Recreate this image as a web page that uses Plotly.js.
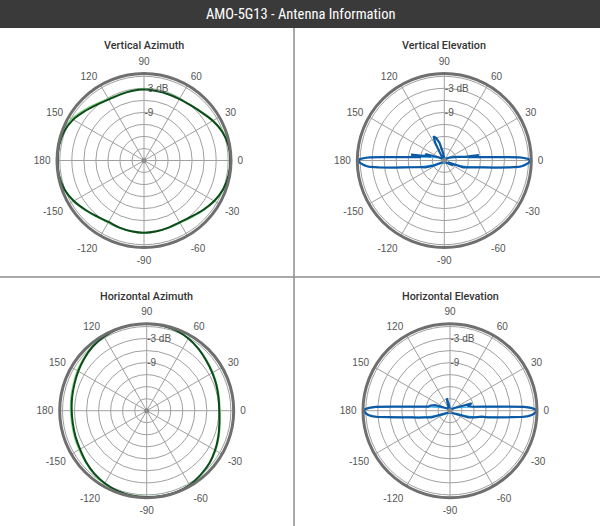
<!DOCTYPE html>
<html>
<head>
<meta charset="utf-8">
<script src="https://cdn.plot.ly/plotly-3.0.1.min.js"></script>
<style>html,body{margin:0;padding:0;background:#fff;}#chart{width:600px;height:526px;}</style>
</head>
<body>
<div id="chart"></div>
<script>
// ---------- data ----------
const chartTitle = "AMO-5G13 - Antenna Information";
const panelTitles = ["Vertical Azimuth", "Vertical Elevation", "Horizontal Azimuth", "Horizontal Elevation"];

const angleTicks = [0, 30, 60, 90, 120, 150, 180, 210, 240, 270, 300, 330];
const angleTickText = ["0", "30", "60", "90", "120", "150", "180", "-150", "-120", "-90", "-60", "-30"];
const radialTicks = [-18, -15, -12, -9, -6, -3, 0];
const radialTickText = ["", "", "", "-9", "", "-3 dB", ""];
const radialRange = [-21, 0.7];

// Vertical Azimuth (dB)
const vaTheta = [0,10,20,30,40,50,60,70,80,90,100,110,120,130,140,150,160,170,180,190,200,210,220,230,240,250,260,270,280,290,300,310,320,330,340,350];
const vaMain  = [0.5,0.4,-0.2,-1.2,-2.3,-3.0,-3.3,-3.4,-3.4,-3.3,-3.4,-3.5,-3.4,-2.8,-1.8,-0.6,0.2,0.5,0.5,0.5,0.1,-0.8,-1.9,-2.8,-3.3,-3.2,-3.1,-3.0,-3.1,-3.2,-3.2,-2.7,-1.8,-0.8,0.0,0.4];
const vaAlt   = [0.6,0.5,0.0,-1.0,-2.1,-2.9,-3.2,-3.3,-3.3,-3.2,-3.3,-3.4,-3.2,-2.5,-1.4,-0.2,0.5,0.6,0.6,0.6,0.3,-0.6,-1.7,-2.6,-3.1,-3.1,-3.0,-2.9,-3.0,-3.1,-3.0,-2.5,-1.6,-0.6,0.2,0.5];

// Horizontal Azimuth (dB)
const haTheta = vaTheta;
const haMain  = [-2.9,-2.8,-2.5,-2.1,-1.6,-0.9,-0.2,0.3,0.6,0.7,0.7,0.6,0.3,-0.1,-0.7,-1.3,-1.8,-2.1,-2.3,-2.3,-2.1,-1.8,-1.2,-0.6,-0.1,0.3,0.5,0.5,0.6,0.6,0.4,-0.1,-0.6,-1.3,-2.0,-2.6];
const haAlt   = [-2.7,-2.6,-2.3,-1.9,-1.4,-0.8,-0.1,0.4,0.6,0.7,0.7,0.6,0.4,0.0,-0.5,-1.0,-1.5,-1.8,-2.0,-2.0,-1.8,-1.5,-1.0,-0.4,0.1,0.4,0.6,0.6,0.6,0.6,0.5,0.0,-0.5,-1.1,-1.8,-2.4];

// Vertical Elevation (dB)
const veTheta = [-60,-40,-30,-25,-20,-15,-10,-8,-6,-5,-4,-3,-2,-1,0,1,2,2.5,3,4,5,6,7,8,9,10,12,15,20,30,45,90,100,105,110,114,117,121,135,150,158,161,163,166,168,170,171,172,174,175,176,177,177.5,178,179,180,181,182,183,184,185,186,188,190,193,196,200,205,215,240,290];
const veMain  = [-20.5,-20,-18.5,-20,-16,-14.3,-11,-8.4,-4.5,-2.5,-1.5,-0.8,-0.2,0.3,0.45,0.0,-1.5,-2.6,-5.2,-9.2,-11.5,-13.1,-14,-14.8,-12.3,-15.8,-16.5,-17.5,-18.5,-19.5,-20.5,-20.5,-19,-16.5,-15,-14.4,-16,-19.5,-20.5,-19.5,-18,-16,-17.5,-16,-15.5,-12.6,-14.5,-15.1,-13.1,-11.5,-9.2,-5.3,-2.6,-1.5,0.0,0.45,0.3,-0.2,-0.8,-1.5,-2.5,-4.5,-8.4,-11,-13.5,-15,-16,-18,-20,-20.5,-20.5];
const veAltTheta = [-60,-30,-15,-10,-7,-5,-4,-2,0,1,2,2.5,3,5,10,30,90,150,170,175,177,177.5,178,179,180,182,184,185,187,190,195,210,290];
const veAlt      = [-20.5,-19,-15,-11.5,-6.5,-2.2,-1.2,0.0,0.55,0.1,-1.3,-2.4,-5,-11,-16.5,-19.5,-20.5,-19.5,-16.5,-11,-5,-2.4,-1.3,0.1,0.55,0.0,-1.2,-2.2,-6.5,-11.5,-15,-19,-20.5];

// Horizontal Elevation (dB)
const heTheta = [-60,-40,-25,-20,-15,-12,-10.7,-10,-8,-6,-5,-4,-3,-2,-1,0,1,2,3,4,5,7,10,15,18.8,22,30,45,95,100,105,110,120,150,160,165,169.6,173,175,176,177,178,179,180,181,182,183,184,185,186,188,190,192.5,195,200,205,215,240,290];
const heMain  = [-20.5,-20,-19,-16.1,-14.5,-13.5,-13,-11.4,-9,-5.5,-3,-1.5,-0.6,0.0,0.4,0.6,0.2,-0.8,-2.5,-6.7,-9.5,-12.8,-15.3,-16.5,-15.3,-18,-19.5,-20.5,-20.5,-19.5,-17.8,-19.5,-20.5,-19.5,-17,-16,-15.5,-12.8,-9.5,-6.7,-2.5,-0.8,0.2,0.45,0.3,-0.1,-0.6,-1.5,-3,-5.5,-9,-11.4,-12.9,-14.5,-16.1,-19,-20,-20.5,-20.5];
const heAltTheta = [-60,-30,-15,-10,-7,-5,-4,-2,0,1,2,3,4,5,10,30,90,150,170,175,176,177,178,179,180,182,184,185,187,190,195,210,290];
const heAlt      = [-20.5,-19,-15,-12,-7,-2.6,-1.3,0.1,0.65,0.3,-0.6,-2.2,-6.5,-9.5,-15.5,-19.5,-20.5,-19.5,-15.5,-9.5,-6.5,-2.2,-0.6,0.3,0.55,0.1,-1.3,-2.6,-7,-12,-15,-19,-20.5];

// ---------- colours / styles ----------
const darkGreen = "#0b4a1b", lightGreen = "#7fd67c";
const darkBlue = "#0c5aa6", lightBlue = "#47b4ea";
const gridColor = "#a0a0a0", ringColor = "#6f6f6f", tickColor = "#555555";

function closed(a) { return a.concat([a[0]]); }

function lineTrace(theta, r, color, width, sub, shape) {
  return {
    type: "scatterpolar", mode: "lines", subplot: sub,
    theta: closed(theta), r: closed(r),
    line: {color: color, width: width, shape: shape, smoothing: 1},
    hoverinfo: "skip", showlegend: false, cliponaxis: true
  };
}
function centerDot(sub) {
  return {type: "scatterpolar", mode: "markers", subplot: sub, r: [radialRange[0]], theta: [0],
          marker: {color: "#8a8a8a", size: 5}, hoverinfo: "skip", showlegend: false};
}

const data = [
  lineTrace(vaTheta, vaAlt, lightGreen, 1.3, "polar", "spline"),
  lineTrace(vaTheta, vaMain, darkGreen, 2.0, "polar", "spline"),
  centerDot("polar"),
  lineTrace(veAltTheta, veAlt, lightBlue, 1.4, "polar2", "linear"),
  lineTrace(veTheta, veMain, darkBlue, 2.2, "polar2", "linear"),
  centerDot("polar2"),
  lineTrace(haTheta, haAlt, lightGreen, 1.3, "polar3", "spline"),
  lineTrace(haTheta, haMain, darkGreen, 2.0, "polar3", "spline"),
  centerDot("polar3"),
  lineTrace(heAltTheta, heAlt, lightBlue, 1.4, "polar4", "linear"),
  lineTrace(heTheta, heMain, darkBlue, 2.2, "polar4", "linear"),
  centerDot("polar4")
];

const W = 600, H = 526, R = 87;
function dom(cx, cy) {
  return {x: [(cx - R) / W, (cx + R) / W], y: [(H - cy - R) / H, (H - cy + R) / H]};
}
const tickFont = {family: "Liberation Sans, Arial, sans-serif", size: 10, color: tickColor};
function polarCfg(cx, cy) {
  return {
    domain: dom(cx, cy),
    bgcolor: "rgba(0,0,0,0)",
    radialaxis: {
      range: radialRange, tickmode: "array", tickvals: radialTicks, ticktext: radialTickText,
      angle: 90, tickangle: 90, showline: false, ticks: "", gridcolor: gridColor, gridwidth: 1,
      tickfont: tickFont
    },
    angularaxis: {
      tickmode: "array", tickvals: angleTicks, ticktext: angleTickText,
      direction: "counterclockwise", rotation: 0,
      showline: true, linecolor: ringColor, linewidth: 3,
      gridcolor: gridColor, gridwidth: 1,
      ticks: "outside", ticklen: 3, tickcolor: "rgba(0,0,0,0)",
      tickfont: tickFont
    }
  };
}

const centers = [[144, 160.5], [444.3, 160.5], [146.7, 410.7], [450, 410.7]];
const titleY = [45, 45, 296, 296];

const barH = 28;
const layout = {
  width: W, height: H,
  margin: {l: 0, r: 0, t: 0, b: 0},
  paper_bgcolor: "#ffffff",
  showlegend: false,
  polar: polarCfg(...centers[0]),
  polar2: polarCfg(...centers[1]),
  polar3: polarCfg(...centers[2]),
  polar4: polarCfg(...centers[3]),
  shapes: [
    {type: "rect", xref: "paper", yref: "paper", x0: 0, x1: 1, y0: 1 - barH / H, y1: 1,
     fillcolor: "#3a3a3a", line: {width: 0}, layer: "below"},
    {type: "line", xref: "paper", yref: "paper", x0: 294 / W, x1: 294 / W, y0: 0, y1: 1 - barH / H,
     line: {color: "#8c8c8c", width: 1.5}},
    {type: "line", xref: "paper", yref: "paper", x0: 0, x1: 1, y0: 1 - 277 / H, y1: 1 - 277 / H,
     line: {color: "#8c8c8c", width: 1.5}}
  ],
  annotations: [
    {text: chartTitle, xref: "paper", yref: "paper", x: 0.5, y: 1 - 14.5 / H, xanchor: "center", yanchor: "middle",
     showarrow: false, font: {family: "Liberation Sans Narrow, Roboto Condensed, Arial Narrow, Roboto, sans-serif", size: 14.5, color: "#ffffff"}}
  ].concat(panelTitles.map((t, i) => ({
     text: t, xref: "paper", yref: "paper", x: centers[i][0] / W, y: 1 - titleY[i] / H,
     xanchor: "center", yanchor: "middle", showarrow: false,
     font: {family: "Roboto, Liberation Sans, Arial, sans-serif", size: 10.8, color: "#333333", weight: 500}
  })))
};

Plotly.newPlot("chart", data, layout, {displayModeBar: false, staticPlot: true});
</script>
</body>
</html>
